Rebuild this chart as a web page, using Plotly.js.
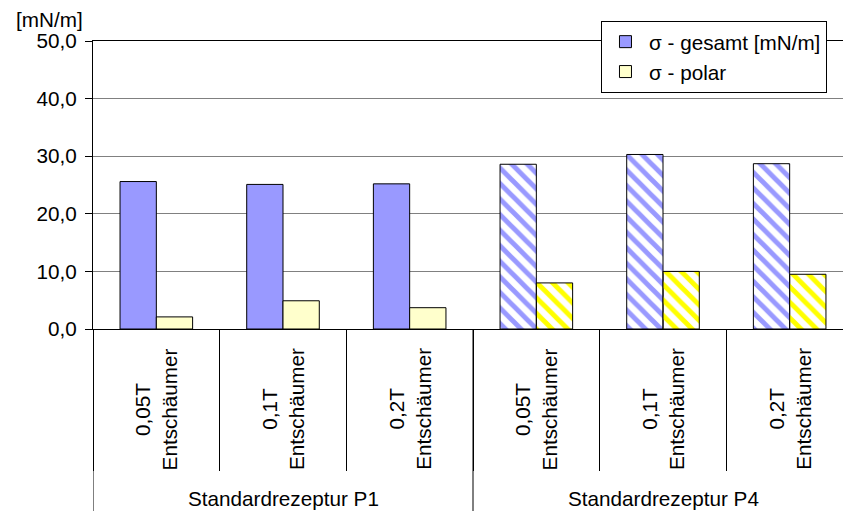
<!DOCTYPE html>
<html>
<head>
<meta charset="utf-8">
<script src="https://cdn.plot.ly/plotly-3.0.1.min.js"></script>
<style>
  html, body { margin: 0; padding: 0; background: #fff; }
  #chart { width: 843px; height: 511px; }
</style>
</head>
<body>
<div id="chart"></div>
<script>
// Surface tension per recipe and defoamer dose
const groups = ['Standardrezeptur P1', 'Standardrezeptur P4'];
const doses = ['0,05T', '0,1T', '0,2T'];
const doseSuffix = 'Entschäumer';
const gesamt = [25.6, 25.1, 25.2, 28.6, 30.3, 28.7];
const polar = [2.1, 4.9, 3.7, 8.0, 10.0, 9.5];
const seriesNames = ['σ - gesamt [mN/m]', 'σ - polar'];
const yTicks = [0, 10, 20, 30, 40, 50];
const yUnit = '[mN/m]';

const FONT = 'Liberation Sans, Arial, sans-serif';
const FS = 20.7;

// one category key per (recipe, dose) pair
const keys = [];
const keyGroup = [];
groups.forEach((g, gi) => doses.forEach(d => { keys.push(g + ' | ' + d); keyGroup.push(gi); }));

// recipe P4 bars are hatched
const hatch = keyGroup.map(gi => gi === 1 ? '\\' : '');

const traces = [
  {
    type: 'bar', name: seriesNames[0], x: keys, y: gesamt,
    marker: {
      color: '#9999FF',
      line: { color: '#000', width: 1 },
      pattern: { shape: hatch, fgcolor: '#9999FF', bgcolor: '#FFFFFF', size: 11, solidity: 0.45 }
    },
    hoverinfo: 'y'
  },
  {
    type: 'bar', name: seriesNames[1], x: keys, y: polar,
    marker: {
      color: keyGroup.map(gi => gi === 1 ? '#FFFF00' : '#FFFFCC'),
      line: { color: '#000', width: 1 },
      pattern: { shape: hatch, fgcolor: '#FFFF00', bgcolor: '#FFFFFF', size: 11, solidity: 0.45 }
    },
    hoverinfo: 'y'
  }
];

const annotations = [];
// category labels, rotated
keys.forEach((k, i) => {
  annotations.push({
    x: k, xref: 'x', y: -0.278, yref: 'paper',
    text: doses[i % doses.length] + '<br>' + doseSuffix,
    textangle: -90, showarrow: false,
    xanchor: 'center', yanchor: 'middle',
    font: { family: FONT, size: FS, color: '#000' }
  });
});
// recipe labels
groups.forEach((g, gi) => {
  annotations.push({
    x: gi * doses.length + (doses.length - 1) / 2, xref: 'x',
    y: -0.587, yref: 'paper',
    text: g, showarrow: false, xanchor: 'center', yanchor: 'middle',
    font: { family: FONT, size: FS, color: '#000' }
  });
});
// unit label above the value axis
annotations.push({
  x: -0.105, xref: 'paper', y: 1.074, yref: 'paper',
  text: yUnit, showarrow: false, xanchor: 'left', yanchor: 'middle',
  font: { family: FONT, size: FS, color: '#000' }
});

// recipe dividers below the axis
const shapes = groups.map((g, gi) => ({
  type: 'line', xref: 'x', yref: 'paper',
  x0: gi * doses.length - 0.5, x1: gi * doses.length - 0.5,
  y0: 0, y1: -0.7,
  line: { color: '#000', width: 1 }
}));

const layout = {
  width: 843, height: 511,
  margin: { l: 93, r: 0, t: 41, b: 182, pad: 0 },
  paper_bgcolor: '#fff', plot_bgcolor: '#fff',
  separators: ',.',
  font: { family: FONT, size: FS, color: '#000' },
  barmode: 'group', bargap: 0.427, bargroupgap: 0,
  showlegend: true,
  legend: {
    x: 0.6773, y: 1.0705, xanchor: 'left', yanchor: 'top',
    bgcolor: '#fff', bordercolor: '#000', borderwidth: 1,
    font: { family: FONT, size: FS, color: '#000' },
    itemwidth: 37, tracegroupgap: 0, itemclick: false
  },
  xaxis: {
    type: 'category', categoryorder: 'array', categoryarray: keys,
    range: [-0.5, keys.length - 0.5 - 0.079],
    showticklabels: false, showgrid: false, zeroline: false,
    ticks: 'outside', tickson: 'boundaries', ticklen: 141, tickwidth: 1, tickcolor: '#000',
    showline: true, linecolor: '#000', linewidth: 1, mirror: true
  },
  yaxis: {
    range: [0, 50], tickvals: yTicks, tickformat: '.1f',
    showgrid: true, gridcolor: '#808080', gridwidth: 1, zeroline: false,
    ticks: 'outside', ticklen: 7, tickwidth: 1, tickcolor: '#000',
    ticklabelstandoff: 4,
    showline: true, linecolor: '#000', linewidth: 1,
    tickfont: { family: FONT, size: FS, color: '#000' }
  },
  annotations: annotations,
  shapes: shapes
};

Plotly.newPlot('chart', traces, layout, { displayModeBar: false, staticPlot: true });
</script>
</body>
</html>
